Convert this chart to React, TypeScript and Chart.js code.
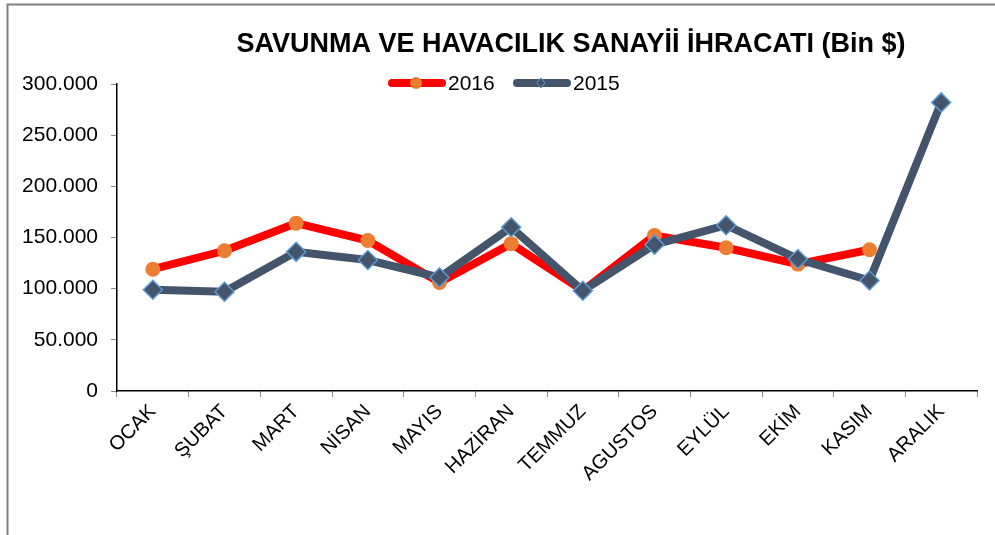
import React, { useEffect, useRef } from "react";
import { Chart, registerables } from "chart.js";

Chart.register(...registerables);

const months = ["OCAK", "ŞUBAT", "MART", "NİSAN", "MAYIS", "HAZİRAN", "TEMMUZ", "AGUSTOS", "EYLÜL", "EKİM", "KASIM", "ARALIK"];
const values2016 = [119000, 137000, 164000, 147000, 106000, 144000, 98000, 152000, 140000, 124000, 138000, null];
const values2015 = [99000, 97000, 136000, 128000, 111000, 160000, 98000, 143000, 162000, 129000, 108000, 282000];
const titleText = "SAVUNMA VE HAVACILIK SANAYİİ İHRACATI (Bin $)";
const legendLabels = ["2016", "2015"];

const RED = "#FF0000";
const ORANGE = "#ED7D31";
const SLATE = "#44546A";
const LIGHTBLUE = "#5B9BD5";
const FONT = "'Liberation Sans', Arial, sans-serif";

function fmt(v: number): string {
  if (v === 0) return "0";
  const s = Math.round(v).toString();
  return s.replace(/\B(?=(\d{3})+(?!\d))/g, ".");
}

const decorPlugin = {
  id: "decor",
  beforeDraw(chart: any) {
    const ctx = chart.ctx;
    ctx.save();
    ctx.strokeStyle = "#808080";
    ctx.lineWidth = 2;
    ctx.beginPath();
    ctx.moveTo(7.5, 535);
    ctx.lineTo(7.5, 4.5);
    ctx.lineTo(995, 4.5);
    ctx.stroke();
    ctx.restore();
  },
  afterDraw(chart: any) {
    const ctx = chart.ctx;
    ctx.save();
    // title
    ctx.fillStyle = "#000";
    ctx.font = `bold 27px ${FONT}`;
    ctx.textAlign = "center";
    ctx.textBaseline = "alphabetic";
    ctx.fillText(titleText, 571, 52);
    // legend
    const y = 83;
    const items = [
      { x: 388, label: legendLabels[0], line: RED, lw: 8, marker: "circle" },
      { x: 513, label: legendLabels[1], line: SLATE, lw: 8, marker: "diamond" },
    ];
    items.forEach((it) => {
      ctx.strokeStyle = it.line;
      ctx.lineWidth = it.lw;
      ctx.lineCap = "round";
      ctx.beginPath();
      ctx.moveTo(it.x + 4, y);
      ctx.lineTo(it.x + 54, y);
      ctx.stroke();
      const cx = it.x + 28;
      if (it.marker === "circle") {
        ctx.fillStyle = ORANGE;
        ctx.beginPath();
        ctx.arc(cx, y, 6, 0, Math.PI * 2);
        ctx.fill();
      } else {
        ctx.fillStyle = SLATE;
        ctx.strokeStyle = LIGHTBLUE;
        ctx.lineWidth = 1;
        ctx.beginPath();
        ctx.moveTo(cx, y - 5);
        ctx.lineTo(cx + 4, y);
        ctx.lineTo(cx, y + 5);
        ctx.lineTo(cx - 4, y);
        ctx.closePath();
        ctx.fill();
        ctx.stroke();
      }
      ctx.fillStyle = "#000";
      ctx.font = `21px ${FONT}`;
      ctx.textAlign = "left";
      ctx.textBaseline = "middle";
      ctx.fillText(it.label, it.x + 60, y + 1);
    });
    ctx.restore();
  },
};

export default function App() {
  const ref = useRef<HTMLCanvasElement | null>(null);
  useEffect(() => {
    document.body.style.margin = "0";
    const canvas = ref.current;
    if (!canvas) return;
    const chart = new Chart(canvas, {
      type: "line",
      data: {
        labels: months,
        datasets: [
          {
            label: legendLabels[0],
            data: values2016,
            borderColor: RED,
            borderWidth: 8,
            backgroundColor: ORANGE,
            pointBackgroundColor: ORANGE,
            pointBorderColor: ORANGE,
            pointBorderWidth: 0,
            pointRadius: 7.5,
            pointStyle: "circle",
            tension: 0,
            spanGaps: false,
            order: 2,
          },
          {
            label: legendLabels[1],
            data: values2015,
            borderColor: SLATE,
            borderWidth: 8,
            backgroundColor: SLATE,
            pointBackgroundColor: SLATE,
            pointBorderColor: LIGHTBLUE,
            pointBorderWidth: 1.5,
            pointRadius: 9.5,
            pointStyle: "rectRot",
            tension: 0,
            order: 1,
          },
        ],
      },
      options: {
        responsive: false,
        animation: false,
        devicePixelRatio: 1,
        layout: { padding: { top: 84, right: 18, left: 0, bottom: 0 } },
        plugins: {
          legend: { display: false },
          title: { display: false },
          tooltip: { enabled: false },
        },
        scales: {
          x: {
            type: "category",
            offset: true,
            border: { display: true, color: "#000", width: 1.5 },
            grid: {
              display: true,
              offset: true,
              drawOnChartArea: false,
              drawTicks: true,
              tickLength: 6,
              tickColor: "#888",
            },
            ticks: {
              color: "#000",
              font: { family: FONT, size: 20 },
              minRotation: 45,
              maxRotation: 45,
              autoSkip: false,
              padding: 3,
            },
            afterFit(scale: any) {
              scale.height = 144;
            },
          },
          y: {
            min: 0,
            max: 300000,
            border: { display: true, color: "#000", width: 1.5 },
            grid: {
              display: true,
              drawOnChartArea: false,
              drawTicks: true,
              tickLength: 6,
              tickColor: "#888",
            },
            ticks: {
              stepSize: 50000,
              color: "#000",
              font: { family: FONT, size: 21 },
              padding: 13,
              callback: (v: any) => fmt(Number(v)),
            },
            afterFit(scale: any) {
              scale.width = 117;
            },
          },
        },
      },
      plugins: [decorPlugin],
    });
    return () => chart.destroy();
  }, []);
  return (
    <div style={{ position: "absolute", left: 0, top: 0, width: 995, height: 535, background: "#fff" }}>
      <canvas ref={ref} width={995} height={535} style={{ display: "block", width: 995, height: 535 }} />
    </div>
  );
}
